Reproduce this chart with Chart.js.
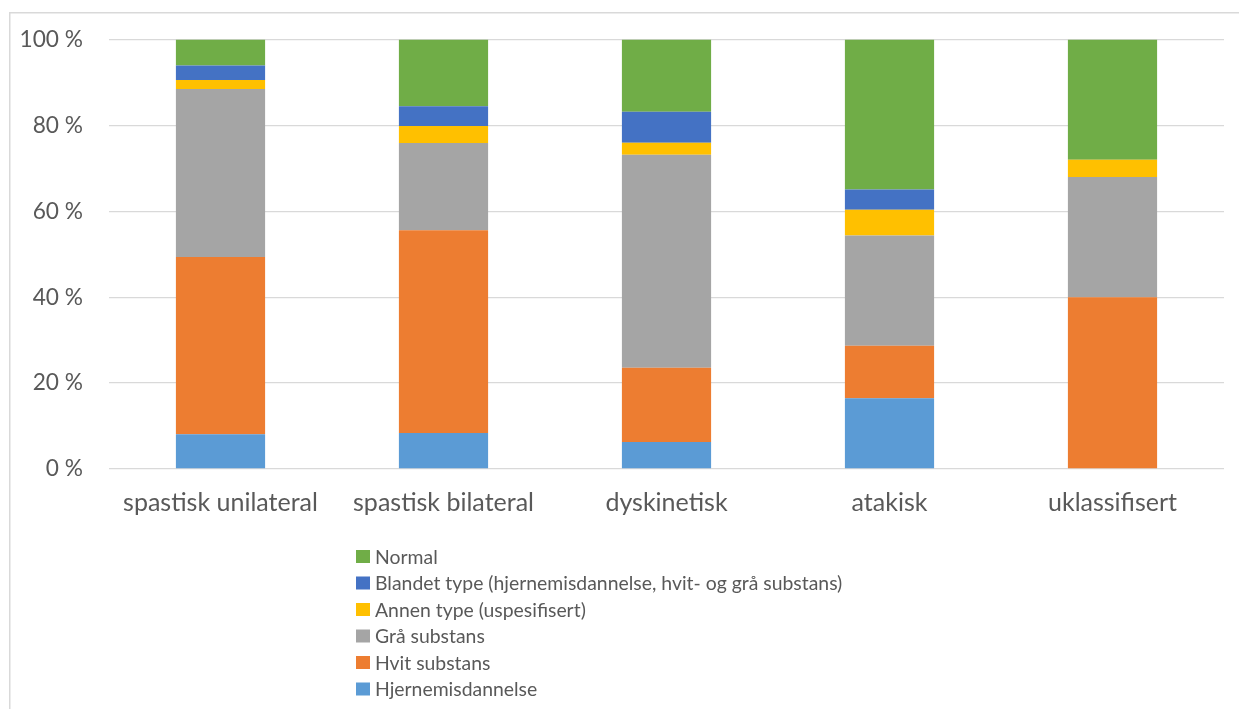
<!DOCTYPE html>
<html lang="no">
<head>
<meta charset="utf-8">
<title>CP-undertype og MR-funn</title>
<script src="https://cdn.jsdelivr.net/npm/chart.js@4/dist/chart.umd.min.js"></script>
<style>
  html, body { margin: 0; padding: 0; background: #ffffff; }
  #wrap { width: 1239px; height: 709px; position: relative; }
</style>
</head>
<body>
<div id="wrap"><canvas id="chart" width="1239" height="709"></canvas></div>
<script>
// Kategorier (CP-undertype)
const categories = ['spastisk unilateral', 'spastisk bilateral', 'dyskinetisk', 'atakisk', 'uklassifisert'];

// Andel (%) per MR-funn i hver kategori
const hjernemisdannelse = [8.1, 8.4, 6.3, 16.5, 0];
const hvitSubstans      = [41.3, 47.2, 17.3, 12.2, 40];
const graaSubstans      = [39.1, 20.3, 49.6, 25.7, 28];
const annenType         = [2.1, 4.0, 2.8, 6.0, 4];
const blandetType       = [3.4, 4.6, 7.2, 4.7, 0];
const normal            = [6.0, 15.5, 16.8, 34.9, 28];

// Verdiakse
const yTicks = [0, 20, 40, 60, 80, 100];

const FONT = 'Lato, "Open Sans", "Liberation Sans", sans-serif';
const TEXT = '#595959';
const GRID = '#D9D9D9';

// Ramme rundt diagramområdet
const framePlugin = {
  id: 'frame',
  beforeDraw(chart) {
    const ctx = chart.ctx;
    ctx.save();
    ctx.strokeStyle = GRID;
    ctx.lineWidth = 1.5;
    ctx.beginPath();
    ctx.moveTo(9.75, chart.height + 2);
    ctx.lineTo(9.75, 12.75);
    ctx.lineTo(chart.width + 2, 12.75);
    ctx.stroke();
    ctx.restore();
  }
};

// Loddrett forklaring under aksen, øverste serie først
const listLegendPlugin = {
  id: 'listLegend',
  afterDraw(chart) {
    const ctx = chart.ctx;
    const sets = chart.data.datasets.slice().reverse();
    const x0 = 356, y0 = 556.5, step = 26.5;
    ctx.save();
    ctx.font = '19.4px ' + FONT;
    ctx.textBaseline = 'middle';
    ctx.textAlign = 'left';
    sets.forEach((ds, i) => {
      const y = y0 + i * step;
      ctx.fillStyle = ds.backgroundColor;
      ctx.fillRect(x0, y - 6.5, 14, 13);
      ctx.fillStyle = TEXT;
      ctx.fillText(ds.label, x0 + 19, y + 1);
    });
    ctx.restore();
  }
};

const series = [
  { label: 'Hjernemisdannelse', data: hjernemisdannelse, color: '#5B9BD5' },
  { label: 'Hvit substans', data: hvitSubstans, color: '#ED7D31' },
  { label: 'Grå substans', data: graaSubstans, color: '#A5A5A5' },
  { label: 'Annen type (uspesifisert)', data: annenType, color: '#FFC000' },
  { label: 'Blandet type (hjernemisdannelse, hvit- og grå substans)', data: blandetType, color: '#4472C4' },
  { label: 'Normal', data: normal, color: '#70AD47' }
];

new Chart(document.getElementById('chart'), {
  type: 'bar',
  data: {
    labels: categories,
    datasets: series.map(s => ({
      label: s.label,
      data: s.data,
      backgroundColor: s.color,
      borderWidth: 0,
      categoryPercentage: 1,
      barPercentage: 0.4
    }))
  },
  options: {
    responsive: false,
    animation: false,
    layout: { padding: { left: 10, right: 15, top: 24, bottom: 0 } },
    plugins: {
      legend: { display: false },
      tooltip: { enabled: false }
    },
    scales: {
      x: {
        stacked: true,
        grid: { display: false },
        border: { display: false },
        ticks: { color: TEXT, font: { family: FONT, size: 25 }, padding: 11, maxRotation: 0 },
        afterFit(scale) { scale.height = 240; }
      },
      y: {
        stacked: true,
        min: 0,
        max: 100,
        afterBuildTicks(scale) { scale.ticks = yTicks.map(v => ({ value: v })); },
        grid: { color: GRID, lineWidth: 1.3, drawTicks: false },
        border: { display: false },
        ticks: {
          color: TEXT,
          font: { family: FONT, size: 22.7 },
          padding: 26,
          callback: v => v + ' %'
        },
        afterFit(scale) { scale.width = 99; }
      }
    }
  },
  plugins: [framePlugin, listLegendPlugin]
});
</script>
</body>
</html>
